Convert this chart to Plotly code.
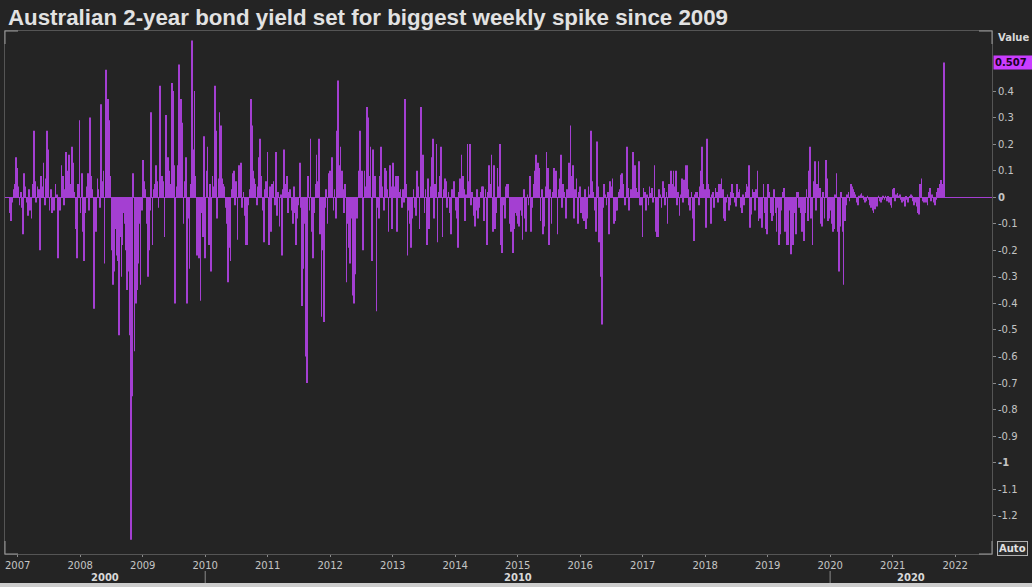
import pandas as pd
import plotly.graph_objects as go

# ---------------- data (weekly change in AU 2-year yield, pct points) ----------------
y2006 = [-0.06, -0.09, -0.02, 0.03, 0.05, 0.15, 0.11, 0.04, -0.03]
y2007 = [0.02, -0.04, -0.14, 0.09, 0.04, -0.02, -0.07, 0.03, -0.05, -0.08, 0.05, 0.25, 0.06,
         -0.02, 0.04, 0.03, -0.20, 0.08, 0.04, 0.13, -0.03, 0.07, 0.25, 0.18, -0.05, 0.03,
         -0.06, -0.03, -0.05, 0.05, 0.01, -0.23, -0.04, -0.05, 0.12, 0.08, -0.03, 0.03, 0.17,
         0.10, 0.16, 0.05, 0.02, 0.19, 0.13, 0.02, -0.12, -0.23, 0.05, 0.29, -0.06, 0.09]
y2008 = [-0.13, -0.24, -0.06, 0.04, 0.09, -0.05, 0.30, 0.08, 0.03, -0.42, -0.06, -0.13, 0.07,
         0.03, -0.04, 0.35, 0.06, 0.10, -0.25, 0.48, 0.15, 0.37, 0.29, 0.08, -0.20, -0.33,
         -0.28, -0.12, -0.22, -0.24, -0.52, -0.15, -0.30, -0.18, -0.06, -0.10, -0.20, -0.35,
         -0.28, -0.52, -1.29, -0.75, 0.09, -0.58, -0.40, -0.35, -0.25, -0.10, -0.33, -0.05,
         0.14, 0.06]
y2009 = [0.03, -0.10, -0.30, -0.20, -0.05, 0.32, -0.18, 0.03, 0.05, 0.12, 0.06, -0.04, 0.42,
         0.05, 0.08, 0.06, -0.15, 0.31, 0.07, 0.15, 0.10, 0.05, 0.43, 0.40, 0.12, -0.40, 0.04,
         0.12, 0.50, 0.20, 0.37, 0.28, -0.10, 0.06, 0.15, -0.40, -0.08, -0.27, 0.05, 0.59,
         0.18, 0.40, 0.08, -0.22, -0.10, -0.23, -0.39, -0.06, -0.15, 0.23, -0.23, 0.10]
y2010 = [0.19, -0.18, 0.05, -0.28, 0.08, 0.04, 0.42, 0.25, -0.08, 0.07, 0.32, 0.27, 0.07,
         0.05, 0.04, -0.04, -0.10, -0.32, -0.19, -0.24, 0.03, 0.09, 0.10, -0.03, 0.06, -0.16,
         0.12, 0.04, 0.13, -0.04, 0.02, -0.07, -0.18, -0.18, -0.03, 0.03, 0.37, 0.27, 0.10,
         0.07, 0.05, -0.03, 0.04, 0.15, 0.22, 0.08, -0.05, -0.17, 0.03, 0.06, 0.17, -0.18]
y2011 = [0.04, -0.13, 0.05, 0.06, -0.03, 0.17, -0.07, 0.02, -0.11, 0.01, -0.22, 0.03, 0.18,
         0.05, 0.08, -0.06, 0.02, 0.03, -0.05, -0.10, 0.04, -0.06, -0.18, -0.08, -0.03, 0.13,
         -0.04, -0.41, -0.27, -0.10, -0.60, -0.70, 0.08, -0.05, 0.22, -0.13, -0.23, -0.06,
         0.05, 0.16, 0.06, 0.22, -0.14, -0.45, -0.20, -0.47, -0.04, 0.03, -0.10, 0.09, 0.10,
         0.04]
y2012 = [0.15, -0.05, 0.03, -0.08, 0.25, 0.44, 0.12, 0.19, 0.10, 0.03, -0.06, 0.05, -0.32,
         -0.10, -0.19, -0.25, -0.08, -0.37, -0.40, -0.29, -0.05, -0.08, 0.10, 0.25, 0.06, 0.10,
         -0.20, 0.10, 0.04, 0.34, 0.30, 0.08, 0.19, -0.24, 0.18, 0.03, 0.08, -0.43, -0.04,
         -0.08, 0.08, 0.19, 0.04, -0.05, 0.11, 0.10, 0.03, -0.13, 0.12, 0.04, -0.12, 0.13]
y2013 = [0.04, 0.08, -0.13, 0.08, 0.02, 0.03, -0.04, 0.03, -0.02, 0.37, 0.05, -0.22, -0.05,
         -0.10, -0.19, -0.08, 0.03, -0.04, -0.07, 0.10, 0.04, -0.12, 0.34, 0.06, 0.16, -0.06,
         0.03, -0.18, 0.07, -0.12, 0.04, 0.15, 0.22, -0.08, 0.05, 0.20, -0.17, 0.02, 0.08,
         0.19, -0.15, 0.03, 0.07, 0.06, -0.04, 0.02, -0.06, -0.14, 0.03, 0.01, 0.06, -0.05]
y2014 = [-0.08, -0.19, 0.02, 0.07, 0.16, 0.08, 0.03, -0.09, 0.01, 0.20, 0.06, 0.20, -0.03,
         0.02, -0.07, -0.11, -0.05, 0.03, -0.08, -0.04, 0.02, 0.04, 0.04, -0.09, 0.03, -0.18,
         0.02, 0.12, 0.05, 0.16, -0.13, 0.12, -0.12, -0.06, 0.11, 0.04, 0.20, -0.18, -0.21,
         -0.03, -0.08, 0.04, 0.05, 0.05, -0.10, -0.13, -0.04, -0.21, -0.12, -0.06, -0.07, -0.10]
y2015 = [-0.11, -0.05, -0.07, -0.16, 0.03, -0.08, -0.13, 0.01, -0.03, 0.08, -0.13, -0.04,
         0.05, 0.10, 0.16, 0.06, 0.13, 0.11, -0.09, 0.03, -0.14, -0.11, 0.04, 0.17, 0.11,
         -0.18, 0.03, -0.10, 0.02, 0.11, 0.04, 0.10, -0.14, 0.03, 0.07, 0.16, -0.04, 0.05,
         0.02, -0.08, 0.03, 0.01, 0.13, 0.27, 0.08, 0.12, -0.08, 0.03, 0.07, -0.10, 0.02, 0.04]
y2016 = [-0.06, -0.08, -0.09, 0.03, -0.12, -0.08, 0.04, 0.01, 0.25, 0.06, 0.02, -0.05, -0.13,
         0.21, 0.04, -0.17, -0.30, -0.48, -0.04, 0.05, 0.01, -0.03, 0.02, -0.14, 0.06, 0.04,
         0.07, -0.10, -0.09, -0.05, -0.05, 0.02, 0.03, 0.085, 0.09, 0.05, -0.03, -0.03, 0.19,
         0.035, -0.05, 0.03, 0.03, 0.17, 0.04, 0.12, 0.035, 0.02, 0.135, -0.03, -0.03, -0.15]
y2017 = [0.035, 0.02, -0.05, 0.01, -0.03, 0.04, 0.016, 0.035, -0.02, 0.12, -0.13, -0.15,
         -0.15, 0.03, 0.01, -0.04, 0.06, 0.035, -0.03, 0.02, -0.10, 0.05, 0.03, 0.10, 0.05,
         0.10, 0.04, 0.10, -0.03, 0.02, -0.07, 0.01, 0.07, -0.02, 0.066, 0.12, 0.12, 0.03,
         -0.03, -0.05, 0.02, -0.08, -0.165, 0.01, 0.02, 0.02, -0.03, 0.04, 0.10, 0.19, 0.05,
         0.03]
y2018 = [-0.115, 0.22, 0.05, 0.03, -0.10, 0.01, 0.02, -0.04, 0.035, 0.02, -0.02, 0.05, 0.05,
         0.07, 0.03, -0.08, -0.09, -0.02, 0.01, -0.05, -0.03, 0.02, 0.05, 0.016, -0.02,
         -0.035, 0.05, 0.02, 0.03, -0.04, -0.06, 0.01, -0.03, 0.02, 0.05, 0.04, 0.12, -0.115,
         -0.065, 0.03, 0.02, -0.05, 0.03, 0.10, -0.09, -0.08, -0.04, -0.115, 0.05, -0.06,
         -0.12, -0.14]
y2019 = [0.05, 0.02, -0.06, -0.09, -0.07, 0.03, -0.06, -0.13, -0.04, -0.18, -0.14, -0.05,
         0.02, 0.035, -0.13, -0.08, -0.18, -0.18, -0.05, -0.215, -0.13, -0.18, -0.06, -0.14,
         0.02, 0.02, -0.04, -0.06, -0.13, -0.03, -0.165, -0.06, 0.03, -0.09, 0.10, 0.19,
         -0.08, -0.18, 0.06, 0.135, -0.05, 0.05, 0.135, 0.035, -0.10, -0.11, 0.02, -0.08,
         0.14, 0.07, -0.09, -0.08]
y2020 = [-0.05, -0.10, -0.13, -0.12, 0.01, 0.09, -0.13, -0.28, -0.11, 0.02, -0.13, -0.33,
         -0.09, -0.03, 0.01, 0.02, -0.015, 0.05, 0.04, 0.03, 0.02, 0.01, -0.02, -0.03, 0.005,
         0.01, 0.015, 0.005, -0.01, -0.02, -0.015, 0.005, -0.01, -0.03, -0.04, -0.05, -0.06,
         -0.045, -0.03, -0.035, 0.005, -0.015, -0.02, -0.01, 0.005, -0.01, 0.005, -0.015,
         0.004, -0.02, -0.03, -0.04]
y2021 = [0.03, 0.035, -0.015, 0.01, 0.016, 0.005, 0.01, -0.01, -0.02, -0.015, -0.035, 0.004,
         -0.01, -0.02, 0.004, 0.01, 0.005, -0.015, -0.03, -0.02, -0.035, -0.06, -0.065, 0.05,
         0.07, -0.015, -0.02, -0.01, -0.02, -0.03, 0.02, 0.035, -0.015, 0.01, -0.02, -0.03,
         -0.01, 0.02, 0.035, 0.05, 0.065, 0.05, 0.035, 0.507]

last_week = "2021-10-29"
latest_value = 0.507

year_ticks = list(range(2007, 2023))
y_ticks = [-1.2, -1.1, -1.0, -0.9, -0.8, -0.7, -0.6, -0.5, -0.4, -0.3, -0.2, -0.1,
           0.0, 0.1, 0.2, 0.3, 0.4]
y_tick_text = ["-1.2", "-1.1", "<b>-1</b>", "-0.9", "-0.8", "-0.7", "-0.6", "-0.5", "-0.4",
               "-0.3", "-0.2", "-0.1", "<b>0</b>", "0.1", "0.2", "0.3", "0.4"]
decades = [2000, 2010, 2020]

title_text = "Australian 2-year bond yield set for biggest weekly spike since 2009"

# ---------------- build ----------------
values = (y2006 + y2007 + y2008 + y2009 + y2010 + y2011 + y2012 + y2013 + y2014 + y2015
          + y2016 + y2017 + y2018 + y2019 + y2020 + y2021)
dates = pd.date_range(end=last_week, periods=len(values), freq="W-FRI")

BG = "#242424"
BAR = "#a43fd2"
FRAME = "#555555"
TXT = "#c4c4c4"

x_range = [pd.Timestamp("2006-10-19"), pd.Timestamp("2022-08-04")]
y_range = [-1.344, 0.626]

fig = go.Figure()
fig.add_trace(go.Bar(x=dates, y=values, marker=dict(color=BAR, line=dict(width=0)),
                     hoverinfo="x+y"))

W, H = 1032, 587
ml, mr, mt, mb = 5, 40, 31, 33
pw, ph = W - ml - mr, H - mt - mb


def px_x(px):
    return (px - ml) / pw


def px_y(py):
    return (H - mb - py) / ph


fig.update_layout(
    width=W, height=H,
    margin=dict(l=ml, r=mr, t=mt, b=mb, pad=0),
    paper_bgcolor=BG, plot_bgcolor=BG,
    bargap=0.4,
    showlegend=False,
    font=dict(family="DejaVu Sans", size=10, color=TXT),
    title=dict(text="<b>" + title_text + "</b>", xref="container", yref="container",
               x=8 / W, xanchor="left", y=1 - 17 / H, yanchor="middle",
               font=dict(family="Liberation Sans", size=22.3, color="#e2e2e2")),
)

fig.update_xaxes(
    type="date", range=x_range,
    tickvals=[pd.Timestamp(f"{y}-01-01") for y in year_ticks],
    ticktext=[str(y) for y in year_ticks],
    ticks="outside", ticklen=2, tickcolor="#8a8a8a", tickwidth=1,
    showgrid=False, zeroline=False,
    showline=True, linecolor=FRAME, linewidth=1, mirror=True,
    tickfont=dict(family="DejaVu Sans", size=10, color=TXT),
)
fig.update_yaxes(
    range=y_range, side="right",
    tickvals=y_ticks, ticktext=y_tick_text,
    ticks="outside", ticklen=3, tickcolor="#8a8a8a", tickwidth=1,
    showgrid=False,
    zeroline=True, zerolinecolor=BAR, zerolinewidth=1,
    showline=True, linecolor=FRAME, linewidth=1, mirror=True,
    tickfont=dict(family="DejaVu Sans", size=10, color=TXT),
)

shapes = []
# brighter frame corners
cl_x, cl_y = 13 / pw, 13 / ph
corner = dict(type="line", xref="paper", yref="paper", line=dict(color="#9a9a9a", width=1))
for cx, sx in [(0, 1), (1, -1)]:
    for cy, sy in [(0, 1), (1, -1)]:
        shapes.append({**corner, "x0": cx, "x1": cx + sx * cl_x, "y0": cy, "y1": cy})
        shapes.append({**corner, "x0": cx, "x1": cx, "y0": cy, "y1": cy + sy * cl_y})
# decade separators
for d in decades[1:]:
    shapes.append(dict(type="line", xref="x", yref="paper",
                       x0=pd.Timestamp(f"{d}-01-01"), x1=pd.Timestamp(f"{d}-01-01"),
                       y0=px_y(571), y1=px_y(583), line=dict(color="#8a8a8a", width=1)))
# bottom scroll strip
shapes.append(dict(type="rect", xref="paper", yref="paper", x0=px_x(0), x1=px_x(W),
                   y0=px_y(583), y1=px_y(H + 1), fillcolor="#cdcdcd", line=dict(width=0)))
fig.update_layout(shapes=shapes)

annotations = []
# decade labels centred on the visible part of each decade
for d in decades:
    lo = max(pd.Timestamp(f"{d}-01-01"), x_range[0])
    hi = min(pd.Timestamp(f"{d + 10}-01-01"), x_range[1])
    mid = lo + (hi - lo) / 2
    annotations.append(dict(x=mid, xref="x", y=px_y(577.5), yref="paper", showarrow=False,
                            text=f"<b>{d}</b>", xanchor="center", yanchor="middle",
                            font=dict(family="DejaVu Sans", size=10, color="#d8d8d8")))
annotations.append(dict(x=px_x(996), y=px_y(38), xref="paper", yref="paper", showarrow=False,
                        text="<b>Value</b>", xanchor="left", yanchor="middle",
                        font=dict(family="DejaVu Sans", size=10, color="#d8d8d8")))
annotations.append(dict(x=px_x(993), y=latest_value, xref="paper", yref="y", showarrow=False,
                        text=f"<b>{latest_value:.3f}</b>", xanchor="left", yanchor="middle",
                        bgcolor="#c93cff", borderpad=1, width=36, height=11, align="left",
                        font=dict(family="DejaVu Sans", size=10, color="#1a0024")))
annotations.append(dict(x=px_x(1012), y=px_y(548), xref="paper", yref="paper", showarrow=False,
                        text="<b>Auto</b>", xanchor="center", yanchor="middle",
                        bgcolor="#2c2c2c", bordercolor="#b0b0b0", borderwidth=1, borderpad=1,
                        font=dict(family="DejaVu Sans", size=10, color="#e0e0e0")))
fig.update_layout(annotations=annotations)

fig.write_html("out.html")
